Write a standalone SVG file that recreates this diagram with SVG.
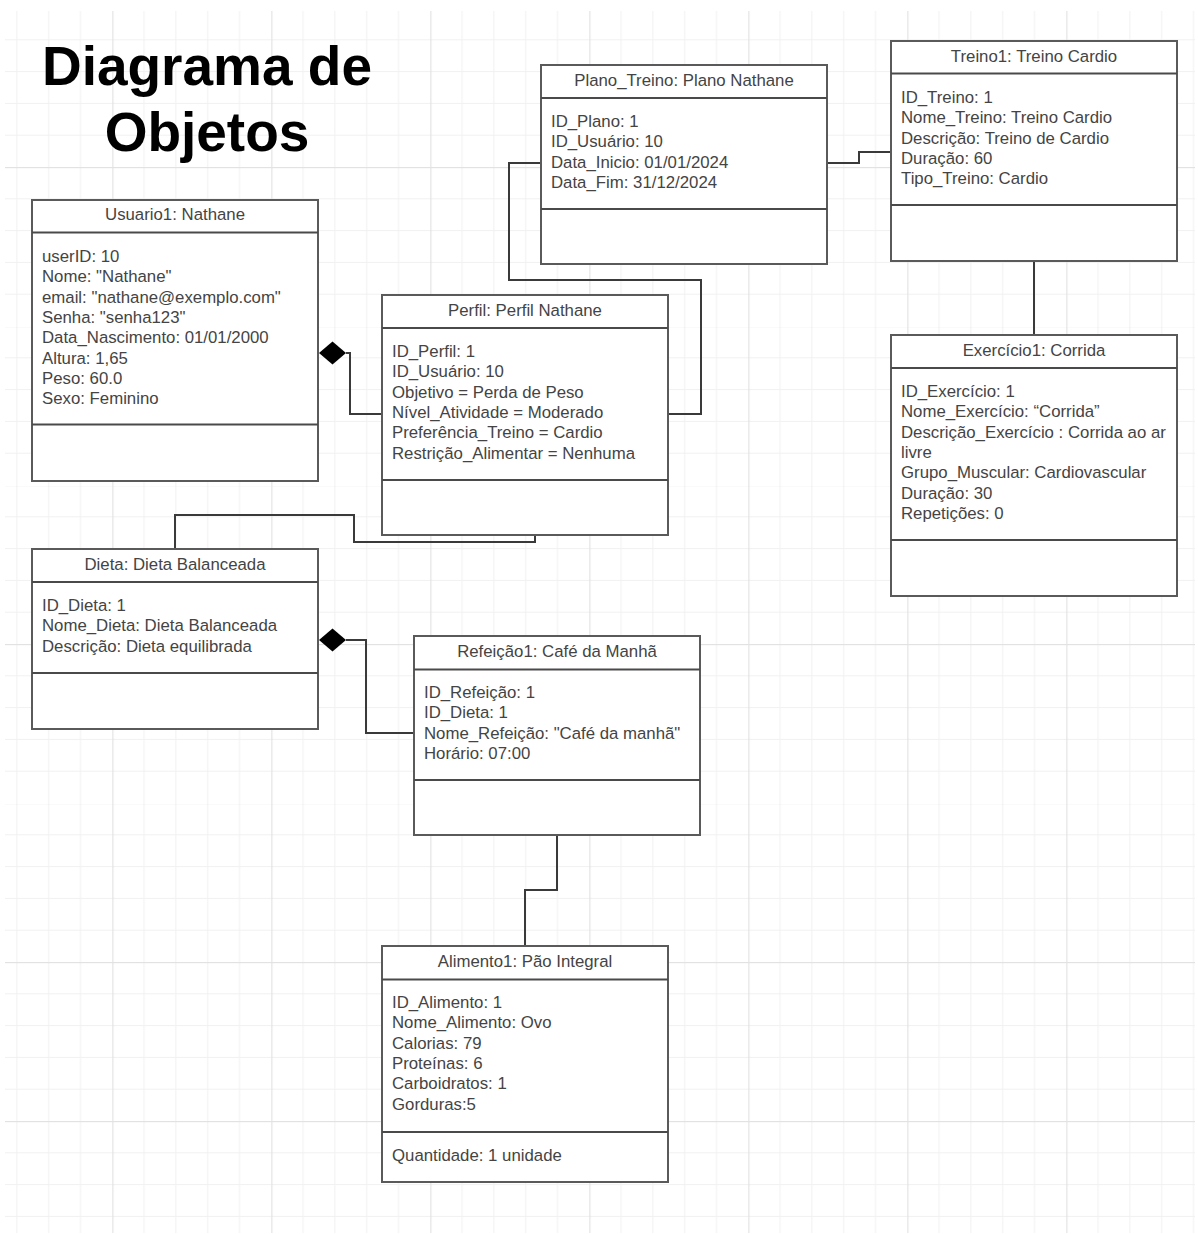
<svg xmlns="http://www.w3.org/2000/svg" width="1198" height="1234" viewBox="0 0 1198 1234">
<defs>
<pattern id="grid" patternUnits="userSpaceOnUse" x="112.3" y="167" width="159" height="159">
<rect x="31.3" y="0" width="1" height="159" fill="#f1f1f1"/>
<rect x="63.1" y="0" width="1" height="159" fill="#f1f1f1"/>
<rect x="94.9" y="0" width="1" height="159" fill="#f1f1f1"/>
<rect x="126.7" y="0" width="1" height="159" fill="#f1f1f1"/>
<rect x="0" y="31.3" width="159" height="1" fill="#f1f1f1"/>
<rect x="0" y="63.1" width="159" height="1" fill="#f1f1f1"/>
<rect x="0" y="94.9" width="159" height="1" fill="#f1f1f1"/>
<rect x="0" y="126.7" width="159" height="1" fill="#f1f1f1"/>
<rect x="0" y="0" width="1.2" height="159" fill="#e2e2e2"/>
<rect x="0" y="0" width="159" height="1.2" fill="#e2e2e2"/>
</pattern>
<style>
.box{fill:#fff;stroke:#5a5a5a;stroke-width:2}
.sep{stroke:#4a4a4a;stroke-width:2}
.hd{font-family:"Liberation Sans",Arial,sans-serif;font-size:16.8px;fill:#444;text-anchor:middle}
.bd{font-family:"Liberation Sans",Arial,sans-serif;font-size:16.8px;fill:#444}
.con{fill:none;stroke:#3a3a3a;stroke-width:2}
.dia{fill:#000}
.title{font-family:"Liberation Sans",Arial,sans-serif;font-size:55px;font-weight:bold;fill:#000;text-anchor:middle}
</style>
</defs>
<rect width="1198" height="1234" fill="#fff"/>
<rect x="5" y="11" width="1190" height="1222" fill="url(#grid)"/>
<g id="title">
<text class="title" x="207" y="85">Diagrama de</text>
<text class="title" x="207" y="151">Objetos</text>
</g>
<g id="connectors">
<path class="con" d="M346,353 H350 V414 H382"/>
<path class="con" d="M541,163 H509 V280 H701 V414 H668"/>
<path class="con" d="M827,163 H859 V152 H891"/>
<path class="con" d="M1034,261 V335"/>
<path class="con" d="M535,535 V542 H354 V515 H175 V549"/>
<path class="con" d="M346,640 H366 V733 H414"/>
<path class="con" d="M557,835 V890 H525 V946"/>
<path class="dia" d="M319,353 L332.5,341.5 L346,353 L332.5,364.5 Z"/>
<path class="dia" d="M319,640 L332.5,628.5 L346,640 L332.5,651.5 Z"/>
</g>
<g id="usuario">
<rect class="box" x="32" y="200" width="286" height="281"/>
<line class="sep" x1="32" y1="232.5" x2="318" y2="232.5"/>
<line class="sep" x1="32" y1="424.5" x2="318" y2="424.5"/>
<text class="hd" x="175" y="220">Usuario1: Nathane</text>
<text class="bd" x="42" y="262">userID: 10</text>
<text class="bd" x="42" y="282.3">Nome: "Nathane"</text>
<text class="bd" x="42" y="302.6">email: "nathane@exemplo.com"</text>
<text class="bd" x="42" y="322.9">Senha: "senha123"</text>
<text class="bd" x="42" y="343.2">Data_Nascimento: 01/01/2000</text>
<text class="bd" x="42" y="363.5">Altura: 1,65</text>
<text class="bd" x="42" y="383.8">Peso: 60.0</text>
<text class="bd" x="42" y="404.1">Sexo: Feminino</text>
</g>
<g id="perfil">
<rect class="box" x="382" y="295" width="286" height="240"/>
<line class="sep" x1="382" y1="328" x2="668" y2="328"/>
<line class="sep" x1="382" y1="480" x2="668" y2="480"/>
<text class="hd" x="525" y="316">Perfil: Perfil Nathane</text>
<text class="bd" x="392" y="357">ID_Perfil: 1</text>
<text class="bd" x="392" y="377.3">ID_Usuário: 10</text>
<text class="bd" x="392" y="397.6">Objetivo = Perda de Peso</text>
<text class="bd" x="392" y="417.9">Nível_Atividade = Moderado</text>
<text class="bd" x="392" y="438.2">Preferência_Treino = Cardio</text>
<text class="bd" x="392" y="458.5">Restrição_Alimentar = Nenhuma</text>
</g>
<g id="plano">
<rect class="box" x="541" y="65" width="286" height="199"/>
<line class="sep" x1="541" y1="98" x2="827" y2="98"/>
<line class="sep" x1="541" y1="209" x2="827" y2="209"/>
<text class="hd" x="684" y="86">Plano_Treino: Plano Nathane</text>
<text class="bd" x="551" y="127">ID_Plano: 1</text>
<text class="bd" x="551" y="147.3">ID_Usuário: 10</text>
<text class="bd" x="551" y="167.6">Data_Inicio: 01/01/2024</text>
<text class="bd" x="551" y="187.9">Data_Fim: 31/12/2024</text>
</g>
<g id="treino">
<rect class="box" x="891" y="41" width="286" height="220"/>
<line class="sep" x1="891" y1="73.5" x2="1177" y2="73.5"/>
<line class="sep" x1="891" y1="205" x2="1177" y2="205"/>
<text class="hd" x="1034" y="62">Treino1: Treino Cardio</text>
<text class="bd" x="901" y="103">ID_Treino: 1</text>
<text class="bd" x="901" y="123.3">Nome_Treino: Treino Cardio</text>
<text class="bd" x="901" y="143.6">Descrição: Treino de Cardio</text>
<text class="bd" x="901" y="163.9">Duração: 60</text>
<text class="bd" x="901" y="184.2">Tipo_Treino: Cardio</text>
</g>
<g id="exercicio">
<rect class="box" x="891" y="335" width="286" height="261"/>
<line class="sep" x1="891" y1="368" x2="1177" y2="368"/>
<line class="sep" x1="891" y1="540" x2="1177" y2="540"/>
<text class="hd" x="1034" y="356">Exercício1: Corrida</text>
<text class="bd" x="901" y="397">ID_Exercício: 1</text>
<text class="bd" x="901" y="417.3">Nome_Exercício: “Corrida”</text>
<text class="bd" x="901" y="437.6">Descrição_Exercício : Corrida ao ar</text>
<text class="bd" x="901" y="457.9">livre</text>
<text class="bd" x="901" y="478.2">Grupo_Muscular: Cardiovascular</text>
<text class="bd" x="901" y="498.5">Duração: 30</text>
<text class="bd" x="901" y="518.8">Repetições: 0</text>
</g>
<g id="dieta">
<rect class="box" x="32" y="549" width="286" height="180"/>
<line class="sep" x1="32" y1="582" x2="318" y2="582"/>
<line class="sep" x1="32" y1="673" x2="318" y2="673"/>
<text class="hd" x="175" y="570">Dieta: Dieta Balanceada</text>
<text class="bd" x="42" y="611">ID_Dieta: 1</text>
<text class="bd" x="42" y="631.3">Nome_Dieta: Dieta Balanceada</text>
<text class="bd" x="42" y="651.6">Descrição: Dieta equilibrada</text>
</g>
<g id="refeicao">
<rect class="box" x="414" y="636" width="286" height="199"/>
<line class="sep" x1="414" y1="669.5" x2="700" y2="669.5"/>
<line class="sep" x1="414" y1="780" x2="700" y2="780"/>
<text class="hd" x="557" y="657">Refeição1: Café da Manhã</text>
<text class="bd" x="424" y="698">ID_Refeição: 1</text>
<text class="bd" x="424" y="718.3">ID_Dieta: 1</text>
<text class="bd" x="424" y="738.6">Nome_Refeição: "Café da manhã"</text>
<text class="bd" x="424" y="758.9">Horário: 07:00</text>
</g>
<g id="alimento">
<rect class="box" x="382" y="946" width="286" height="236"/>
<line class="sep" x1="382" y1="979.5" x2="668" y2="979.5"/>
<line class="sep" x1="382" y1="1132" x2="668" y2="1132"/>
<text class="hd" x="525" y="967">Alimento1: Pão Integral</text>
<text class="bd" x="392" y="1008">ID_Alimento: 1</text>
<text class="bd" x="392" y="1028.3">Nome_Alimento: Ovo</text>
<text class="bd" x="392" y="1048.6">Calorias: 79</text>
<text class="bd" x="392" y="1068.9">Proteínas: 6</text>
<text class="bd" x="392" y="1089.2">Carboidratos: 1</text>
<text class="bd" x="392" y="1109.5">Gorduras:5</text>
<text class="bd" x="392" y="1161">Quantidade: 1 unidade</text>
</g>
</svg>
